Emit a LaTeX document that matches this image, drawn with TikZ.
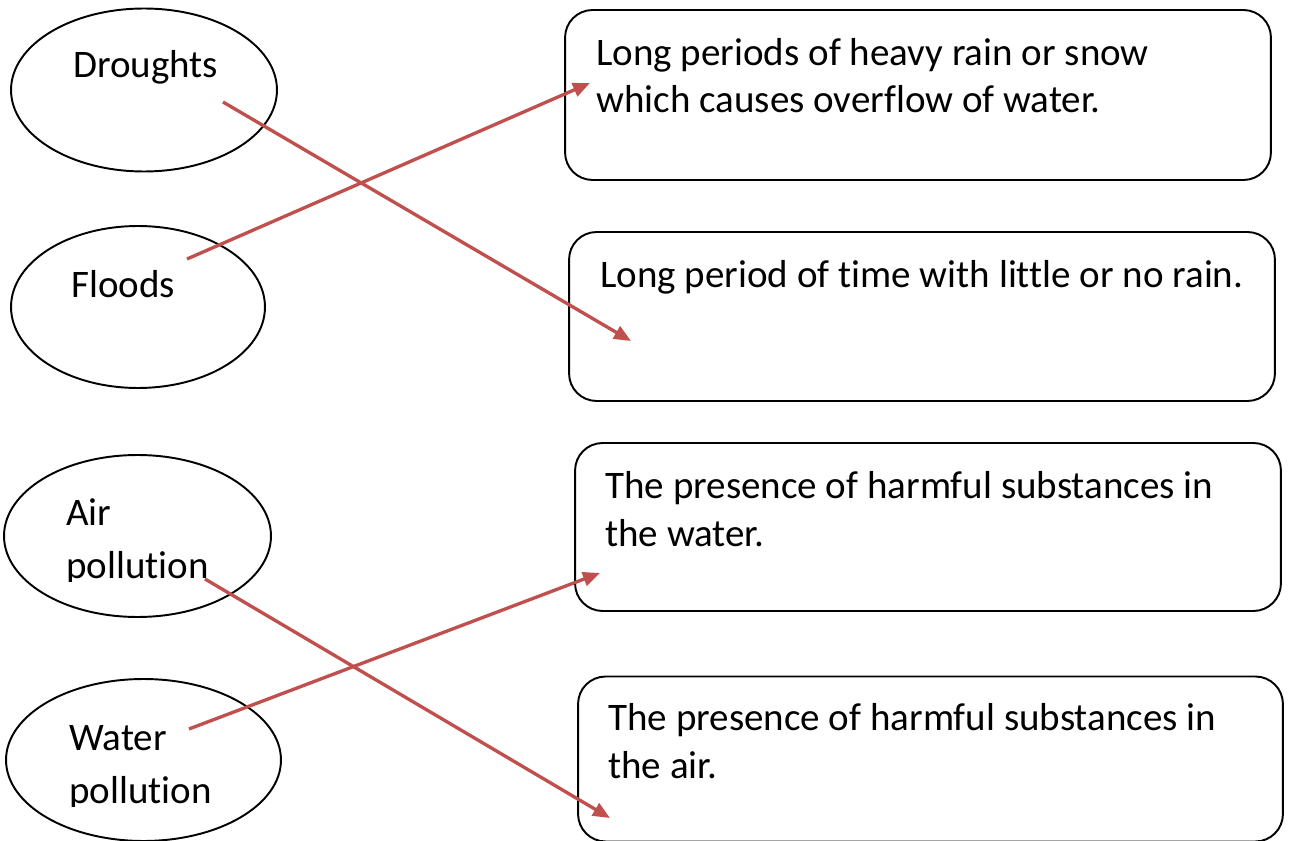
\documentclass[tikz,border=0pt]{standalone}
\usepackage{fontspec}
\setmainfont{Carlito}[Ligatures=NoCommon]
\usetikzlibrary{arrows.meta,shapes.geometric}
\definecolor{arrred}{HTML}{C0504D}
\tikzset{
  ell/.style={draw=black, line width=1.1pt, ellipse, inner sep=0pt},
  rbox/.style={draw=black, line width=1.1pt, rectangle, rounded corners=0.55cm, inner sep=0pt},
  boxtext/.style={anchor=base west, inner sep=0pt, align=left, font=\fontsize{22.2}{27.3}\selectfont},
  elltext/.style={anchor=base west, inner sep=0pt, align=left, font=\fontsize{22.2}{29.8}\selectfont},
  link/.style={draw=arrred, line width=1.9pt, -{Triangle[length=0.34cm,width=0.28cm]}}
}
\begin{document}
\begin{tikzpicture}[x=0.02cm, y=-0.02cm]
\useasboundingbox (0,0) rectangle (1289,841);
% ellipses
\node[ell, minimum width=5.32cm, minimum height=3.26cm] (e1) at (144,90) {};
\node[ell, minimum width=5.08cm, minimum height=3.24cm] (e2) at (138,307) {};
\node[ell, minimum width=5.34cm, minimum height=3.24cm] (e3) at (137.5,536) {};
\node[ell, minimum width=5.50cm, minimum height=3.24cm] (e4) at (143.5,760) {};
% multi-line nodes: base anchor = baseline of the last line
\node[elltext] (t1) at (73,78) {Droughts};
\node[elltext] (t2) at (71,298) {Floods};
\begin{scope}
  \clip (0,450) rectangle (300,581);
  \node[elltext] (t3) at (66,578) {Air\\pollution};
\end{scope}
\begin{scope}
  \clip (0,660) rectangle (300,806);
  \node[elltext] (t4) at (69,803) {Water\\pollution};
\end{scope}
% boxes
\node[rbox, minimum width=14.12cm, minimum height=3.40cm] (b1) at (918,95) {};
\node[rbox, minimum width=14.12cm, minimum height=3.38cm] (b2) at (922,316.5) {};
\node[rbox, minimum width=14.12cm, minimum height=3.36cm] (b3) at (928,527) {};
\node[rbox, minimum width=14.10cm, minimum height=3.30cm] (b4) at (930.5,759) {};
\node[boxtext] (d1) at (596,113) {Long periods of heavy rain or snow\\which causes overflow of water.};
\node[boxtext] (d2) at (600,288) {Long period of time with little or no rain.};
\node[boxtext] (d3) at (605,546) {The presence of harmful substances in\\the water.};
\node[boxtext] (d4) at (608,778) {The presence of harmful substances in\\the air.};
% connector ends
\coordinate (s1) at (223,102);
\coordinate (f1) at (631,341);
\coordinate (s2) at (187,259);
\coordinate (f2) at (590,83);
\coordinate (s3) at (205,579);
\coordinate (f3) at (610,818);
\coordinate (s4) at (189,729);
\coordinate (f4) at (600,573);
\draw[link] (s1) -- (f1);
\draw[link] (s2) -- (f2);
\draw[link] (s3) -- (f3);
\draw[link] (s4) -- (f4);
\end{tikzpicture}
\end{document}
